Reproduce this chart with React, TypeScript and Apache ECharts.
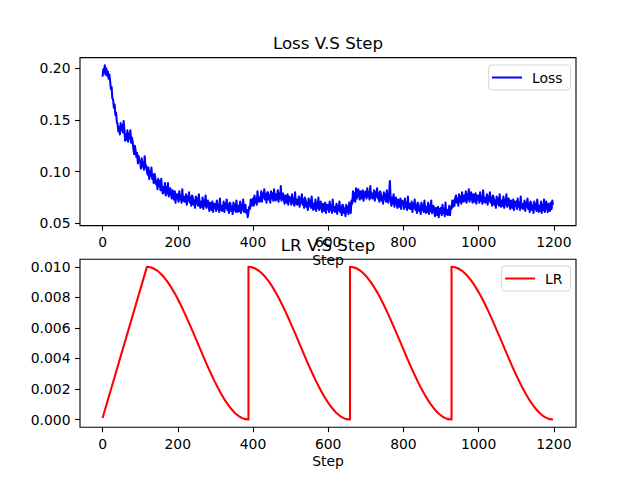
import React, { useEffect, useRef } from "react";
import * as echarts from "echarts";

// Loss values, read every 2 steps (0, 2, 4, ..., 1198)
const lossValues: number[] = [
  0.192, 0.199, 0.196, 0.203, 0.194, 0.200, 0.193, 0.197, 0.190, 0.194,
  0.188, 0.180, 0.182, 0.171, 0.170, 0.162, 0.165, 0.155, 0.157, 0.148,
  0.146, 0.139, 0.143, 0.136, 0.147, 0.140, 0.145, 0.138, 0.149, 0.141,
  0.130, 0.136, 0.131, 0.140, 0.129, 0.137, 0.132, 0.140, 0.128, 0.133,
  0.129, 0.122, 0.117, 0.125, 0.120, 0.114, 0.118, 0.108, 0.115, 0.110,
  0.110, 0.103, 0.113, 0.105, 0.109, 0.102, 0.115, 0.104, 0.106, 0.100,
  0.097, 0.104, 0.093, 0.100, 0.096, 0.104, 0.093, 0.097, 0.089, 0.098,
  0.095, 0.088, 0.091, 0.083, 0.093, 0.086, 0.091, 0.082, 0.093, 0.085,
  0.079, 0.085, 0.080, 0.089, 0.077, 0.085, 0.079, 0.089, 0.076, 0.081,
  0.084, 0.078, 0.074, 0.082, 0.078, 0.073, 0.081, 0.070, 0.078, 0.074,
  0.078, 0.071, 0.081, 0.073, 0.077, 0.070, 0.083, 0.072, 0.076, 0.071,
  0.071, 0.078, 0.068, 0.076, 0.072, 0.080, 0.070, 0.075, 0.067, 0.077,
  0.075, 0.068, 0.072, 0.065, 0.076, 0.069, 0.074, 0.067, 0.078, 0.070,
  0.065, 0.071, 0.066, 0.075, 0.064, 0.072, 0.067, 0.077, 0.065, 0.070,
  0.072, 0.066, 0.062, 0.070, 0.068, 0.063, 0.071, 0.061, 0.069, 0.065,
  0.069, 0.062, 0.072, 0.064, 0.068, 0.061, 0.074, 0.063, 0.067, 0.062,
  0.064, 0.071, 0.061, 0.069, 0.065, 0.073, 0.063, 0.068, 0.060, 0.070,
  0.069, 0.062, 0.066, 0.059, 0.070, 0.063, 0.068, 0.061, 0.072, 0.064,
  0.061, 0.067, 0.062, 0.071, 0.060, 0.068, 0.063, 0.073, 0.061, 0.066,
  0.068, 0.060, 0.063, 0.056, 0.061, 0.066, 0.064, 0.073, 0.067, 0.071,
  0.074, 0.067, 0.077, 0.070, 0.074, 0.068, 0.081, 0.071, 0.075, 0.071,
  0.074, 0.081, 0.071, 0.079, 0.075, 0.083, 0.073, 0.078, 0.070, 0.080,
  0.080, 0.073, 0.077, 0.070, 0.081, 0.074, 0.079, 0.072, 0.083, 0.075,
  0.072, 0.078, 0.073, 0.082, 0.071, 0.079, 0.074, 0.086, 0.072, 0.077,
  0.079, 0.073, 0.069, 0.077, 0.075, 0.070, 0.078, 0.068, 0.076, 0.072,
  0.075, 0.068, 0.078, 0.070, 0.074, 0.067, 0.080, 0.069, 0.073, 0.068,
  0.069, 0.076, 0.066, 0.074, 0.070, 0.078, 0.068, 0.073, 0.065, 0.075,
  0.073, 0.066, 0.070, 0.063, 0.074, 0.067, 0.072, 0.065, 0.076, 0.068,
  0.063, 0.069, 0.064, 0.073, 0.062, 0.070, 0.065, 0.075, 0.063, 0.068,
  0.071, 0.065, 0.061, 0.069, 0.067, 0.062, 0.070, 0.060, 0.068, 0.064,
  0.068, 0.061, 0.071, 0.063, 0.067, 0.060, 0.073, 0.062, 0.066, 0.061,
  0.062, 0.069, 0.059, 0.067, 0.063, 0.071, 0.061, 0.066, 0.058, 0.068,
  0.067, 0.060, 0.064, 0.057, 0.068, 0.061, 0.066, 0.059, 0.070, 0.062,
  0.060, 0.072, 0.069, 0.081, 0.072, 0.079, 0.071, 0.084, 0.074, 0.080,
  0.083, 0.077, 0.073, 0.081, 0.079, 0.074, 0.082, 0.072, 0.080, 0.076,
  0.081, 0.074, 0.084, 0.076, 0.080, 0.073, 0.086, 0.075, 0.079, 0.074,
  0.075, 0.082, 0.072, 0.080, 0.076, 0.084, 0.074, 0.079, 0.071, 0.081,
  0.079, 0.072, 0.076, 0.069, 0.080, 0.073, 0.078, 0.071, 0.082, 0.074,
  0.070, 0.077, 0.091, 0.074, 0.067, 0.075, 0.069, 0.078, 0.066, 0.073,
  0.075, 0.069, 0.065, 0.073, 0.071, 0.066, 0.074, 0.064, 0.072, 0.068,
  0.071, 0.064, 0.074, 0.066, 0.070, 0.063, 0.076, 0.065, 0.069, 0.064,
  0.064, 0.071, 0.061, 0.069, 0.065, 0.073, 0.063, 0.068, 0.060, 0.070,
  0.069, 0.062, 0.066, 0.059, 0.070, 0.063, 0.068, 0.061, 0.072, 0.064,
  0.060, 0.066, 0.061, 0.070, 0.059, 0.067, 0.062, 0.072, 0.060, 0.065,
  0.067, 0.061, 0.057, 0.065, 0.063, 0.058, 0.066, 0.056, 0.064, 0.060,
  0.065, 0.058, 0.068, 0.060, 0.064, 0.057, 0.070, 0.059, 0.063, 0.058,
  0.060, 0.067, 0.058, 0.066, 0.064, 0.072, 0.066, 0.072, 0.067, 0.075,
  0.077, 0.070, 0.074, 0.067, 0.078, 0.071, 0.076, 0.069, 0.080, 0.072,
  0.071, 0.077, 0.072, 0.081, 0.070, 0.078, 0.073, 0.083, 0.071, 0.076,
  0.080, 0.074, 0.070, 0.078, 0.076, 0.071, 0.079, 0.069, 0.077, 0.073,
  0.077, 0.070, 0.080, 0.072, 0.076, 0.069, 0.082, 0.071, 0.075, 0.070,
  0.071, 0.078, 0.068, 0.076, 0.072, 0.080, 0.070, 0.075, 0.067, 0.077,
  0.075, 0.068, 0.072, 0.065, 0.076, 0.069, 0.074, 0.067, 0.078, 0.070,
  0.066, 0.072, 0.067, 0.076, 0.065, 0.073, 0.068, 0.078, 0.066, 0.071,
  0.074, 0.068, 0.064, 0.072, 0.070, 0.065, 0.073, 0.063, 0.071, 0.067,
  0.071, 0.064, 0.074, 0.066, 0.070, 0.063, 0.076, 0.065, 0.069, 0.064,
  0.065, 0.072, 0.062, 0.070, 0.066, 0.074, 0.064, 0.069, 0.061, 0.071,
  0.070, 0.063, 0.067, 0.060, 0.071, 0.064, 0.069, 0.062, 0.073, 0.065,
  0.061, 0.067, 0.062, 0.071, 0.060, 0.068, 0.063, 0.073, 0.061, 0.066,
  0.071, 0.065, 0.061, 0.069, 0.067, 0.062, 0.070, 0.064, 0.072, 0.068,
];
const lossStepSize = 2;
const lossSteps: number[] = lossValues.map((_, i) => i * lossStepSize);

// LR schedule: linear warmup, then cosine decay with restarts
const lrSteps: number[] = [
  0,
  118, 127, 136, 145, 154, 163, 172, 181, 190, 199, 208, 217, 226, 235, 244, 253, 262, 271, 280, 289, 298, 307, 316, 325, 334, 343, 352, 361, 370, 379, 388,
  388, 397, 406, 415, 424, 433, 442, 451, 460, 469, 478, 487, 496, 505, 514, 523, 532, 541, 550, 559, 568, 577, 586, 595, 604, 613, 622, 631, 640, 649, 658,
  658, 667, 676, 685, 694, 703, 712, 721, 730, 739, 748, 757, 766, 775, 784, 793, 802, 811, 820, 829, 838, 847, 856, 865, 874, 883, 892, 901, 910, 919, 928,
  928, 937, 946, 955, 964, 973, 982, 991, 1000, 1009, 1018, 1027, 1036, 1045, 1054, 1063, 1072, 1081, 1090, 1099, 1108, 1117, 1126, 1135, 1144, 1153, 1162, 1171, 1180, 1189, 1198,
];
const lrValues: number[] = [
  0.0001,
  0.01, 0.009973, 0.009891, 0.009755, 0.009568, 0.00933, 0.009045, 0.008716, 0.008346, 0.007939, 0.0075, 0.007034, 0.006545, 0.00604, 0.005523, 0.005,
  0.004477, 0.00396, 0.003455, 0.002966, 0.0025, 0.002061, 0.001654, 0.001284, 0.000955, 0.00067, 0.000432, 0.000245, 0.000109, 0.000027, 0.0,
  0.01, 0.009973, 0.009891, 0.009755, 0.009568, 0.00933, 0.009045, 0.008716, 0.008346, 0.007939, 0.0075, 0.007034, 0.006545, 0.00604, 0.005523, 0.005,
  0.004477, 0.00396, 0.003455, 0.002966, 0.0025, 0.002061, 0.001654, 0.001284, 0.000955, 0.00067, 0.000432, 0.000245, 0.000109, 0.000027, 0.0,
  0.01, 0.009973, 0.009891, 0.009755, 0.009568, 0.00933, 0.009045, 0.008716, 0.008346, 0.007939, 0.0075, 0.007034, 0.006545, 0.00604, 0.005523, 0.005,
  0.004477, 0.00396, 0.003455, 0.002966, 0.0025, 0.002061, 0.001654, 0.001284, 0.000955, 0.00067, 0.000432, 0.000245, 0.000109, 0.000027, 0.0,
  0.01, 0.009973, 0.009891, 0.009755, 0.009568, 0.00933, 0.009045, 0.008716, 0.008346, 0.007939, 0.0075, 0.007034, 0.006545, 0.00604, 0.005523, 0.005,
  0.004477, 0.00396, 0.003455, 0.002966, 0.0025, 0.002061, 0.001654, 0.001284, 0.000955, 0.00067, 0.000432, 0.000245, 0.000109, 0.000027, 0.0,
];

const xTicks: number[] = [0, 200, 400, 600, 800, 1000, 1200];
const lossTicks: number[] = [0.05, 0.1, 0.15, 0.2];
const lrTicks: number[] = [0, 0.002, 0.004, 0.006, 0.008, 0.01];

const titles = ["Loss V.S Step", "LR V.S Step"];
const seriesNames = ["Loss", "LR"];
const xName = "Step";

const FONT = "DejaVu Sans";
const TICK_FS = 13.9;
const LINE_W = 2.08;

export default function App() {
  const ref = useRef<HTMLDivElement>(null);
  useEffect(() => {
    if (!ref.current) return;
    const chart = echarts.init(ref.current, undefined, { renderer: "svg" });
    const gridTops = [57.6, 259.2];
    const xAxisCommon = (idx: number) => ({
      type: "value" as const,
      gridIndex: idx,
      min: -60,
      max: 1259,
      name: xName,
      nameLocation: "middle" as const,
      nameGap: 27,
      nameTextStyle: { fontFamily: FONT, fontSize: TICK_FS, color: "#000" },
      axisLine: { show: false, onZero: false },
      splitLine: { show: false },
      axisTick: {
        show: true,
        length: 5,
        customValues: xTicks,
        lineStyle: { color: "#000", width: 1.1 },
      },
      axisLabel: {
        customValues: xTicks,
        margin: 9.5,
        color: "#000",
        fontFamily: FONT,
        fontSize: TICK_FS,
        formatter: (v: number) => String(Math.round(v)),
      },
    });
    const yAxisCommon = (idx: number, min: number, max: number, ticks: number[], dec: number) => ({
      type: "value" as const,
      gridIndex: idx,
      min,
      max,
      axisLine: { show: false, onZero: false },
      splitLine: { show: false },
      axisTick: {
        show: true,
        length: 5,
        customValues: ticks,
        lineStyle: { color: "#000", width: 1.1 },
      },
      axisLabel: {
        customValues: ticks,
        margin: 9.5,
        color: "#000",
        fontFamily: FONT,
        fontSize: TICK_FS,
        formatter: (v: number) => v.toFixed(dec),
      },
    });
    const legendCommon = (name: string, top: number) => ({
      data: [name],
      right: 69.5,
      top,
      orient: "vertical" as const,
      icon: "rect",
      itemWidth: 30,
      itemHeight: 2,
      backgroundColor: "#fff",
      borderColor: "#d6d6d6",
      borderWidth: 1,
      borderRadius: 3,
      padding: [5.5, 8, 5.5, 3.4],
      textStyle: {
        fontFamily: FONT,
        fontSize: TICK_FS,
        color: "#000",
        lineHeight: 14,
        padding: [0, 0, 0, 5],
      },
      selectedMode: false,
    });
    chart.setOption({
      animation: false,
      backgroundColor: "#fff",
      title: [
        {
          text: titles[0],
          left: 328,
          top: 33.5,
          textAlign: "center",
          padding: 0,
          textStyle: { fontFamily: FONT, fontSize: 16.67, fontWeight: "normal", color: "#000", lineHeight: 20 },
        },
        {
          text: titles[1],
          left: 328,
          top: 235.1,
          textAlign: "center",
          padding: 0,
          textStyle: { fontFamily: FONT, fontSize: 16.67, fontWeight: "normal", color: "#000", lineHeight: 20 },
        },
      ],
      grid: gridTops.map((t) => ({
        left: 80,
        top: t,
        width: 496,
        height: 168,
        show: true,
        borderColor: "#000",
        borderWidth: 1.1,
        backgroundColor: "transparent",
        containLabel: false,
      })),
      legend: [legendCommon(seriesNames[0], 65), legendCommon(seriesNames[1], 266)],
      xAxis: [xAxisCommon(0), xAxisCommon(1)],
      yAxis: [
        yAxisCommon(0, 0.0478, 0.2104, lossTicks, 2),
        yAxisCommon(1, -0.0005, 0.0105, lrTicks, 3),
      ],
      series: [
        {
          name: seriesNames[0],
          type: "line",
          xAxisIndex: 0,
          yAxisIndex: 0,
          data: lossSteps.map((s, i) => [s, lossValues[i]]),
          showSymbol: false,
          symbol: "none",
          color: "#0000ff",
          lineStyle: { color: "#0000ff", width: LINE_W, join: "round" },
        },
        {
          name: seriesNames[1],
          type: "line",
          xAxisIndex: 1,
          yAxisIndex: 1,
          data: lrSteps.map((s, i) => [s, lrValues[i]]),
          showSymbol: false,
          symbol: "none",
          color: "#ff0000",
          lineStyle: { color: "#ff0000", width: LINE_W, join: "round" },
        },
      ],
    });
    return () => chart.dispose();
  }, []);
  return (
    <div
      ref={ref}
      style={{ position: "absolute", left: 0, top: 0, width: 640, height: 480 }}
    />
  );
}
